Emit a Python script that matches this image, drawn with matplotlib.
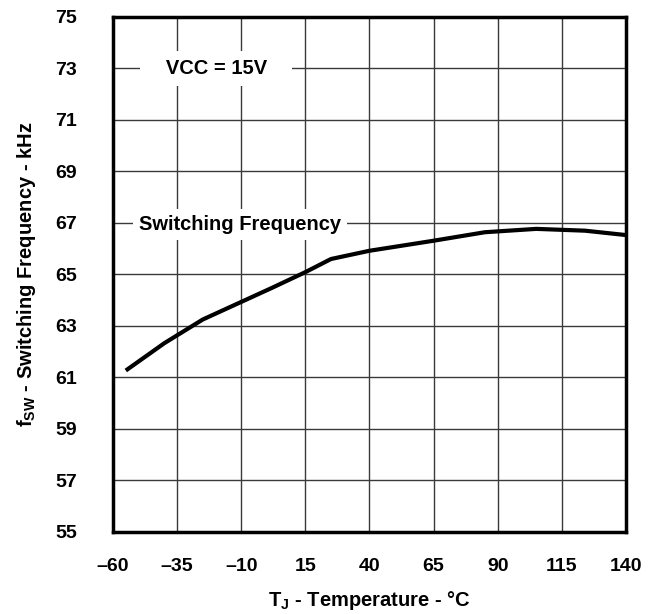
import numpy as np
import matplotlib.pyplot as plt

plt.rcParams['font.family'] = ['Liberation Sans', 'DejaVu Sans']
plt.rcParams['font.weight'] = 'bold'
plt.rcParams['mathtext.fontset'] = 'custom'
plt.rcParams['mathtext.rm'] = 'Liberation Sans:bold'
plt.rcParams['mathtext.bf'] = 'Liberation Sans:bold'

# switching frequency vs junction temperature
temp_c = [-55, -40, -25, 2, 15, 25, 40, 65, 85, 105, 124, 140]
freq_khz = [61.27, 62.33, 63.25, 64.48, 65.09, 65.6, 65.92, 66.31, 66.64, 66.77, 66.7, 66.53]

x_ticks = [-60, -35, -10, 15, 40, 65, 90, 115, 140]
y_ticks = [55, 57, 59, 61, 63, 65, 67, 69, 71, 73, 75]

fig = plt.figure(figsize=(6.49, 6.14), dpi=100)
ax = fig.add_axes([0.1741, 0.1336, 0.7904, 0.8388])

ax.plot(temp_c, freq_khz, color="black", linewidth=3, solid_capstyle="butt", zorder=3)

ax.set_xlim(-60, 140)
ax.set_ylim(55, 75)
ax.set_xticks(x_ticks)
ax.set_xticklabels([f"{t}".replace("-", "\u2013") for t in x_ticks])
ax.set_yticks(y_ticks)
ax.tick_params(length=0, labelsize=14)
ax.tick_params(axis="y", pad=26)
ax.tick_params(axis="x", pad=19)
for lab in ax.get_xticklabels() + ax.get_yticklabels():
    lab.set_fontweight("bold")

ax.grid(True, color="#3a3a3a", linewidth=1)
for s in ax.spines.values():
    s.set_linewidth(2.5)

ax.text(-19.8, 73, "   VCC = 15V   ", ha="center", va="center", fontsize=14.5,
        fontweight="bold", bbox=dict(facecolor="white", edgecolor="none", pad=6), zorder=4)
ax.text(-10.5, 66.95, "Switching Frequency", ha="center", va="center", fontsize=14.5,
        fontweight="bold", bbox=dict(facecolor="white", edgecolor="none", pad=4.5), zorder=4)

ax.set_xlabel(r"T$_\mathbf{J}$ - Temperature - °C", fontsize=14.5, fontweight="bold")
ax.xaxis.set_label_coords(0.5, -0.11)
ax.set_ylabel(r"f$_\mathbf{SW}$ - Switching Frequency - kHz", fontsize=14.5, fontweight="bold",
              labelpad=12)

plt.savefig("out.png")
plt.close()
